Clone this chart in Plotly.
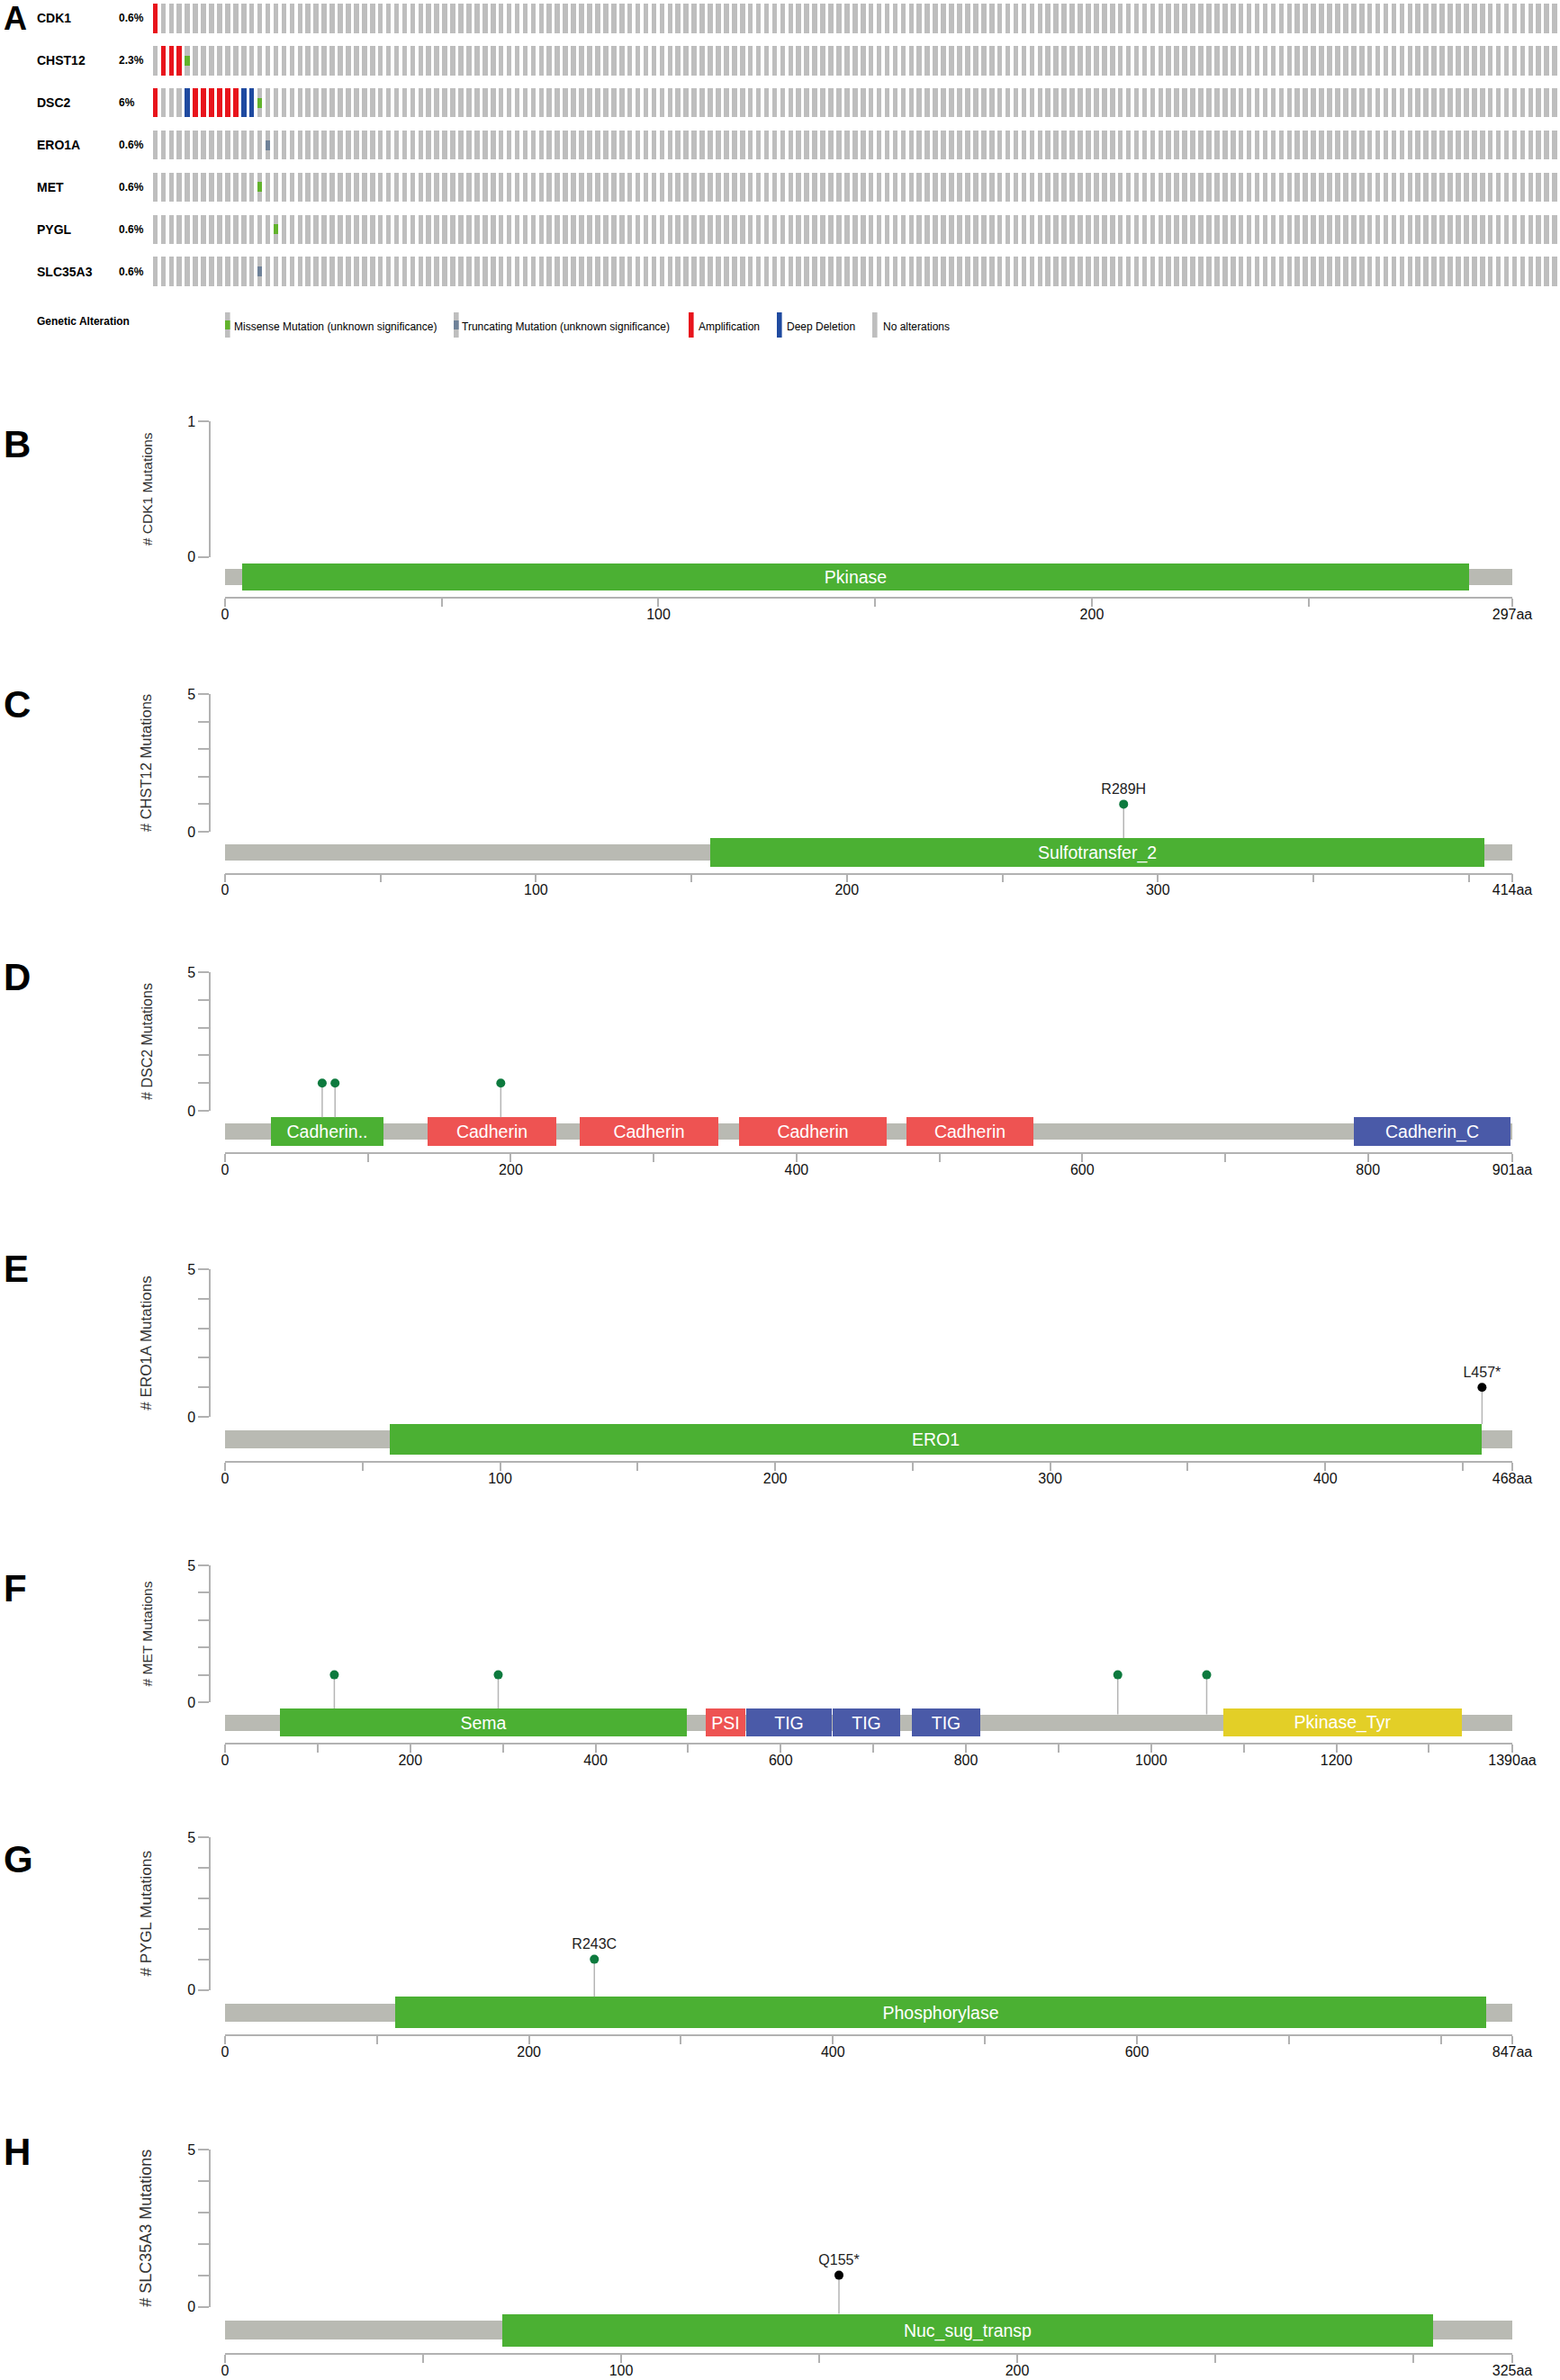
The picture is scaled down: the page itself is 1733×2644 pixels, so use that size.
import plotly.graph_objs as go

W = 1733
H = 2644
FONT = "Liberation Sans"

# oncoprint
genes = ["CDK1", "CHST12", "DSC2", "ERO1A", "MET", "PYGL", "SLC35A3"]
percents = ["0.6%", "2.3%", "6%", "0.6%", "0.6%", "0.6%", "0.6%"]
n_samples = 175
amplification = [[0], [1, 2, 3], [0, 5, 6, 7, 8, 9, 10], [], [], [], []]
deep_deletion = [[], [], [4, 11, 12], [], [], [], []]
missense = [[], [4], [13], [], [13], [15], []]
truncating = [[], [], [], [14], [], [], [13]]
legend_labels = ["Missense Mutation (unknown significance)", "Truncating Mutation (unknown significance)",
                 "Amplification", "Deep Deletion", "No alterations"]

# lollipop panels
letters = ["B", "C", "D", "E", "F", "G", "H"]
lengths = [297, 414, 901, 468, 1390, 847, 325]
y_maxes = [1, 5, 5, 5, 5, 5, 5]
domain_names = [
    ["Pkinase"],
    ["Sulfotransfer_2"],
    ["Cadherin..", "Cadherin", "Cadherin", "Cadherin", "Cadherin", "Cadherin_C"],
    ["ERO1"],
    ["Sema", "PSI", "TIG", "TIG", "TIG", "Pkinase_Tyr"],
    ["Phosphorylase"],
    ["Nuc_sug_transp"],
]
domain_starts = [[4], [156], [32, 142, 248, 360, 477, 790], [60], [59, 519, 563, 656, 742, 1078], [112], [70]]
domain_ends = [[287], [405], [111, 232, 345, 463, 566, 900], [457], [499, 562, 655, 729, 816, 1336], [830], [305]]
domain_colors = [
    ["#4bb033"],
    ["#4bb033"],
    ["#4bb033", "#ee5352", "#ee5352", "#ee5352", "#ee5352", "#4a5aa8"],
    ["#4bb033"],
    ["#4bb033", "#ee5352", "#4a5aa8", "#4a5aa8", "#4a5aa8", "#e3cf27"],
    ["#4bb033"],
    ["#4bb033"],
]
mutation_pos = [[], [289], [68, 77, 193], [457], [118, 295, 964, 1060], [243], [155]]
mutation_counts = [[], [1], [1, 1, 1], [1], [1, 1, 1, 1], [1], [1]]
mutation_labels = [[], ["R289H"], ["", "", ""], ["L457*"], ["", "", "", ""], ["R243C"], ["Q155*"]]
mutation_colors = ["#0d7a3e", "#0d7a3e", "#0d7a3e", "black", "#0d7a3e", "#0d7a3e", "black"]
x_ticks = [
    [0, 50, 100, 150, 200, 250, 297],
    [0, 50, 100, 150, 200, 250, 300, 350, 400, 414],
    [0, 100, 200, 300, 400, 500, 600, 700, 800, 901],
    [0, 50, 100, 150, 200, 250, 300, 350, 400, 450, 468],
    [0, 100, 200, 300, 400, 500, 600, 700, 800, 900, 1000, 1100, 1200, 1300, 1390],
    [0, 100, 200, 300, 400, 500, 600, 700, 800, 847],
    [0, 50, 100, 150, 200, 250, 300, 325],
]
x_tick_labels = [
    ["0", "", "100", "", "200", "", "297aa"],
    ["0", "", "100", "", "200", "", "300", "", "", "414aa"],
    ["0", "", "200", "", "400", "", "600", "", "800", "901aa"],
    ["0", "", "100", "", "200", "", "300", "", "400", "", "468aa"],
    ["0", "", "200", "", "400", "", "600", "", "800", "", "1000", "", "1200", "", "1390aa"],
    ["0", "", "200", "", "400", "", "600", "", "", "847aa"],
    ["0", "", "100", "", "200", "", "", "325aa"],
]

# pixel layout of each panel, top of y axis / zero / x axis line / centre of backbone / heights
y_top_px = [468, 771, 1080, 1410, 1739, 2041, 2388]
y_zero_px = [618.5, 924, 1234, 1574, 1891, 2210.5, 2562.5]
x_line_px = [663, 969.5, 1280, 1623, 1936, 2260, 2614]
center_px = [641, 947, 1257, 1599, 1913.5, 2235.5, 2588.5]
bone_h_px = [18, 18, 18.6, 19.4, 18, 20, 20.7]
domain_h_px = [30.5, 32, 31.7, 34, 31, 34.7, 36]
letter_y_px = [493, 782, 1085, 1409, 1764, 2065, 2390]
# the panels were pasted at slightly different scales, so the y titles differ in length
title_sizes = [15.5, 16.5, 16, 17, 15.5, 17.3, 18]

AXIS_COLOR = "#b2b2b2"
GREY = "#bebebe"
RED = "#e8141c"
BLUE = "#1f4aa0"
GREEN = "#62b32c"
TRUNC = "#6f8299"
BONE = "#b9bab3"


def xd(p):
    return p / W


def yd(p):
    return 1 - p / H


fig = go.Figure()
annotations = []
shapes = []


def add_text(x, y, text, size, bold=False, color="black"):
    if bold:
        text = "<b>" + text + "</b>"
    annotations.append(dict(x=xd(x), y=yd(y), xref="paper", yref="paper", text=text, showarrow=False,
                            xanchor="left", yanchor="middle", align="left", xshift=-1,
                            font=dict(family=FONT, size=size, color=color)))


# A: oncoprint, samples on x and genes on y
pitch = 8.935
first_center = 172
col_w = 5.6 / pitch
xaxis_a = dict(domain=[xd(first_center - pitch / 2), xd(first_center + pitch * (n_samples - 0.5))],
               range=[-0.5, n_samples - 0.5], visible=False)
row_pitch = 46.9
row_center = 20.35
yaxis_a = dict(domain=[yd(row_center + row_pitch * (len(genes) - 0.5)), 1],
               range=[len(genes) - 0.5, -row_center / row_pitch], visible=False)


def onco_bar(columns, row, color, height):
    fig.add_trace(go.Bar(x=columns, y=[height] * len(columns), base=[row - height / 2] * len(columns),
                         width=col_w, marker_color=color, marker_line_width=0, showlegend=False,
                         xaxis="x", yaxis="y", hoverinfo="skip"))


for i, gene in enumerate(genes):
    onco_bar(list(range(n_samples)), i, GREY, 0.697)
    if amplification[i]:
        onco_bar(amplification[i], i, RED, 0.697)
    if deep_deletion[i]:
        onco_bar(deep_deletion[i], i, BLUE, 0.697)
    if missense[i]:
        onco_bar(missense[i], i, GREEN, 0.235)
    if truncating[i]:
        onco_bar(truncating[i], i, TRUNC, 0.235)
    row_y = row_center + row_pitch * i
    add_text(39.5, row_y, gene, 14, True)
    add_text(130.5, row_y, percents[i], 12, True)

add_text(39.5, 357, "Genetic Alteration", 12, True)

# hand made legend
swatch_x = [250, 504, 765, 863, 969]
text_x = [258.5, 512, 774.5, 872.5, 980]
swatch_colors = [GREY, GREY, RED, BLUE, GREY]
swatch_marks = [GREEN, TRUNC, None, None, None]
for i, label in enumerate(legend_labels):
    shapes.append(dict(type="rect", xref="paper", yref="paper", line_width=0, fillcolor=swatch_colors[i],
                       x0=xd(swatch_x[i]), x1=xd(swatch_x[i] + 5.6), y0=yd(375), y1=yd(347)))
    if swatch_marks[i]:
        shapes.append(dict(type="rect", xref="paper", yref="paper", line_width=0, fillcolor=swatch_marks[i],
                           x0=xd(swatch_x[i]), x1=xd(swatch_x[i] + 5.6), y0=yd(366), y1=yd(356)))
    add_text(text_x[i], 363, label, 12)

annotations.append(dict(x=xd(2), y=yd(21), xref="paper", yref="paper", text="<b>A</b>", showarrow=False,
                        xanchor="left", yanchor="middle", font=dict(family=FONT, size=36, color="black")))

layout_axes = {"xaxis": xaxis_a, "yaxis": yaxis_a}

# B-H: lollipop panels
for k in range(len(letters)):
    x_id = "x%d" % (k + 2)
    track_id = "y%d" % (2 * k + 2)
    count_id = "y%d" % (2 * k + 3)
    unit = (y_zero_px[k] - y_top_px[k]) / y_maxes[k]
    center = -(center_px[k] - y_zero_px[k]) / unit
    bone_h = bone_h_px[k] / unit
    dom_h = domain_h_px[k] / unit

    fig.add_trace(go.Bar(y=[center], x=[lengths[k]], base=[0], orientation="h", width=bone_h,
                         marker_color=BONE, marker_line_width=0, showlegend=False,
                         xaxis=x_id, yaxis=track_id, hoverinfo="skip"))
    for name, start, end, color in zip(domain_names[k], domain_starts[k], domain_ends[k], domain_colors[k]):
        fig.add_trace(go.Bar(y=[center], x=[end - start], base=[start], orientation="h", width=dom_h,
                             marker_color=color, marker_line_width=0, showlegend=False,
                             text=[name], textposition="inside", insidetextanchor="middle", textangle=0,
                             constraintext="none", textfont=dict(family=FONT, size=19.5, color="white"),
                             xaxis=x_id, yaxis=track_id, hoverinfo="skip"))

    # stems stop at the top of whatever they stand on
    for pos, count in zip(mutation_pos[k], mutation_counts[k]):
        inside = any(s <= pos <= e for s, e in zip(domain_starts[k], domain_ends[k]))
        bottom = center + (dom_h if inside else bone_h) / 2
        fig.add_trace(go.Scatter(x=[pos, pos], y=[count, bottom], mode="lines",
                                 line=dict(color="#b5b5b5", width=1.5), showlegend=False,
                                 xaxis=x_id, yaxis=track_id, hoverinfo="skip"))

    has_mut = len(mutation_pos[k]) > 0
    fig.add_trace(go.Scatter(x=mutation_pos[k] if has_mut else [None],
                             y=mutation_counts[k] if has_mut else [None],
                             text=mutation_labels[k] if has_mut else [""],
                             mode="markers+text", textposition="top center", cliponaxis=False,
                             textfont=dict(family=FONT, size=16, color="#222222"),
                             marker=dict(size=10, color=mutation_colors[k]), showlegend=False,
                             xaxis=x_id, yaxis=count_id, hoverinfo="skip"))

    layout_axes["xaxis%d" % (k + 2)] = dict(
        domain=[xd(250), xd(1680)], range=[0, lengths[k]], anchor=track_id,
        showgrid=False, zeroline=False, showline=True, linecolor=AXIS_COLOR, linewidth=1.5,
        ticks="outside", ticklen=9, tickwidth=1.5, tickcolor=AXIS_COLOR, ticklabelstandoff=-5,
        tickmode="array", tickvals=x_ticks[k], ticktext=x_tick_labels[k],
        tickfont=dict(family=FONT, size=16, color="#111111"))
    layout_axes["yaxis%d" % (2 * k + 2)] = dict(
        domain=[yd(x_line_px[k]), yd(y_top_px[k])],
        range=[-(x_line_px[k] - y_zero_px[k]) / unit, y_maxes[k]],
        anchor=x_id, visible=False)
    y_ticks = list(range(y_maxes[k] + 1))
    y_text = [str(v) if v in (0, y_maxes[k]) else "" for v in y_ticks]
    layout_axes["yaxis%d" % (2 * k + 3)] = dict(
        domain=[yd(y_zero_px[k]), yd(y_top_px[k])], range=[0, y_maxes[k]],
        anchor="free", position=xd(233), side="left",
        showgrid=False, zeroline=False, showline=True, linecolor=AXIS_COLOR, linewidth=1.5,
        ticks="outside", ticklen=12, tickwidth=1.5, tickcolor=AXIS_COLOR,
        tickmode="array", tickvals=y_ticks, ticktext=y_text,
        tickfont=dict(family=FONT, size=16, color="#111111"),
        title=dict(text="# " + genes[k] + " Mutations", standoff=34,
                   font=dict(family=FONT, size=title_sizes[k], color="#333333")))
    annotations.append(dict(x=xd(2), y=yd(letter_y_px[k]), xref="paper", yref="paper",
                            text="<b>" + letters[k] + "</b>", showarrow=False,
                            xanchor="left", yanchor="middle", font=dict(family=FONT, size=42, color="black")))

fig.update_layout(template="none", width=W, height=H, margin=dict(l=0, r=0, t=0, b=0),
                  barmode="overlay", bargap=0, plot_bgcolor="rgba(0,0,0,0)", paper_bgcolor="white",
                  showlegend=False, annotations=annotations, shapes=shapes, **layout_axes)

fig.write_html("out.html", config={"displayModeBar": False}, post_script="document.body.style.margin='0';")
